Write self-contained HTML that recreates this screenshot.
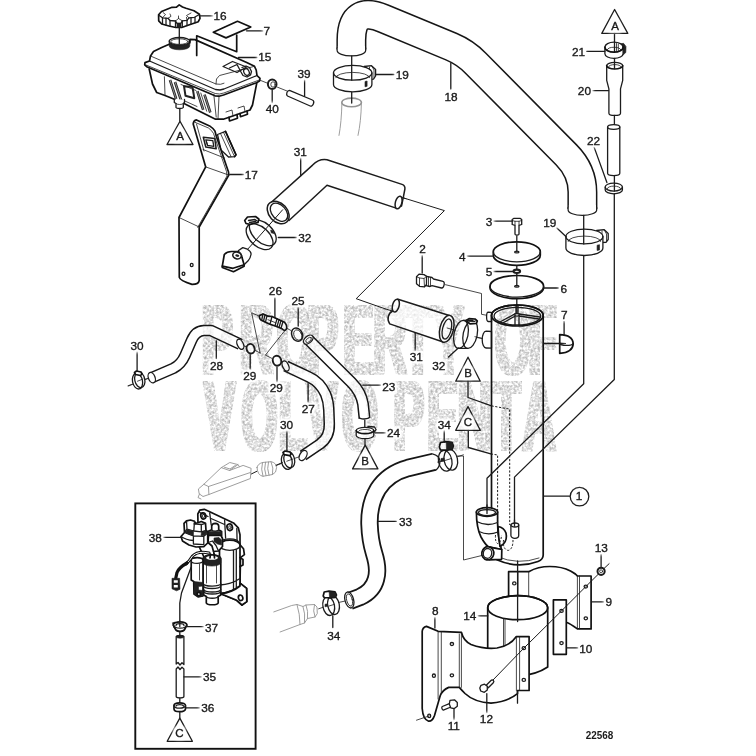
<!DOCTYPE html>
<html>
<head>
<meta charset="utf-8">
<title>22568</title>
<style>
html,body{margin:0;padding:0;background:#fff;}
body{width:756px;height:756px;overflow:hidden;}
svg{display:block;}
svg text{font-family:"Liberation Sans",sans-serif;font-size:11.8px;fill:#1a1a1a;stroke:#1a1a1a;stroke-width:0.35;text-anchor:middle;}
.l{fill:none;stroke:#1c1c1c;stroke-width:1.3;stroke-linecap:round;stroke-linejoin:round;}
.t{fill:none;stroke:#1c1c1c;stroke-width:0.8;stroke-linecap:round;stroke-linejoin:round;}
.w{fill:#fff;stroke:#1c1c1c;stroke-width:1.3;stroke-linecap:round;stroke-linejoin:round;}
.wt{fill:#fff;stroke:#1c1c1c;stroke-width:0.8;stroke-linecap:round;stroke-linejoin:round;}
.b{fill:none;stroke:#111;stroke-width:1.7;stroke-linecap:round;stroke-linejoin:round;}
.wb{fill:#fff;stroke:#111;stroke-width:1.7;stroke-linecap:round;stroke-linejoin:round;}
.k{fill:#222;stroke:#1c1c1c;stroke-width:0.6;stroke-linejoin:round;}
.g{fill:none;stroke:#939393;stroke-width:0.9;stroke-linecap:round;stroke-linejoin:round;}
.wg{fill:#fff;stroke:#939393;stroke-width:0.9;stroke-linecap:round;stroke-linejoin:round;}
.d{fill:none;stroke:#1c1c1c;stroke-width:1;stroke-dasharray:2.2 1.6;}
.ho{fill:none;stroke:#161616;stroke-linecap:butt;stroke-linejoin:round;}
.hi{fill:none;stroke:#fff;stroke-linecap:butt;stroke-linejoin:round;}
.wm{font-family:"Liberation Sans",sans-serif;font-weight:bold;font-size:98px;text-anchor:start;fill:#ccc;stroke:none;}
</style>
</head>
<body>
<svg width="756" height="756" viewBox="0 0 756 756">
<rect width="756" height="756" fill="#fff"/>
<defs><filter id="wmf" x="190" y="296" width="380" height="164" filterUnits="userSpaceOnUse" color-interpolation-filters="sRGB"><feMorphology in="SourceAlpha" operator="dilate" radius="2 0.6" result="a"/><feTurbulence type="fractalNoise" baseFrequency="0.42" numOctaves="2" seed="5" result="n"/><feColorMatrix in="n" type="matrix" values="0.44 0 0 0 0.69  0.44 0 0 0 0.69  0.44 0 0 0 0.69  0 0 0 0 1" result="g"/><feComposite in="g" in2="a" operator="in"/></filter></defs>
<g id="watermark" filter="url(#wmf)">
<text class="wm" transform="scale(0.47 1)" x="429.2 510.1 589.4 653.7 729.9 794.1 858.9 921.5 1005.5 1053.2 1123.9" y="374.3">PROPERTY OF</text>
<text class="wm" transform="scale(0.47 1)" x="434.5 513.9 593.1 652.3 727.7 814.0 836.7 909.0 973.9 1047.4 1111.9" y="449.6">VOLVO PENTA</text>
</g>
<g id="drawing">
<!-- 10_tank.svg -->
<g id="tank">
<!-- cap 16 -->
<path class="wb" d="M179.200 4.900 L176.500 7.200 L172 7.300 L161.500 11.500 L158.600 14.800 L158.700 20.800 L161.700 24 L169 26 L175.800 27.500 L181.700 27.500 L188 25.300 L198.300 21.700 L200 18.300 L199.400 14.200 L194 10.800 L186 8.300 L182.500 7 Z"/>
<path class="l" d="M158.800 15.200 L162.500 17.800 L168 18.300 L170 20.500 L175.500 21 L177 23.300 L181 23.300 L182.300 20.800 L187 20.300 L189 17.800 L194.500 17.300 L199.300 14.500"/>
<path class="t" d="M168 18.300 L171 16.300 L170 14 M175.500 21 L178.500 18.500 L182.300 20.800 M178.500 18.500 L178.500 16 M187 20.300 L186.500 17.300 M163 12.500 L165.500 14.500 L162.500 17.800 M189 17.800 L186.500 15.500 L191 13"/>
<path class="l" d="M162.500 17.800 L162.500 24 M166 18.200 L166 25 M170 20.500 L170 26 M175.500 21 L175.500 27.300 M182.300 20.800 L182.300 27.300 M187 20.300 L187 25.500 M191 17.600 L191 24.200 M195 17.300 L195 22.800"/>
<path class="k" d="M177 23.300 L181 23.300 L181 27.300 L177 27.300 Z"/>
<path class="l" d="M179.300 27.500 L179.300 38"/>
<path class="l" d="M200 15.800 L213 15.800"/>
<!-- neck -->
<path class="k" d="M169.200 41.300 L169.200 46 A10.300 3.800 0 0 0 189.800 46 L189.800 41.300 Z"/>
<ellipse class="w" cx="179.500" cy="41.300" rx="10.300" ry="3.800"/>
<ellipse class="t" cx="179.500" cy="41.600" rx="8.600" ry="2.800"/>
<path class="l" d="M179.300 38 L179.300 44"/>
<!-- tank body -->
<path class="b" d="M169.200 44.200 L161.700 47.500 L153.500 51.500 L150.500 56 L149.500 61 M189.800 43 L190 39.400 L195 39.600 L246.700 62.500 L254.500 66.300 L256.200 70 L257 75.500 L260 78.300 L259.500 81 L256.500 82.700 L223.500 95 L219 96.200 L215 95.800 L146.700 66.700 L144.700 64.800 L145 62.600 L149.500 61"/>
<path class="l" d="M149.500 61 L215.500 89.500 L220 90 L224 89 L257 75.500"/>
<path class="t" d="M146 65 L215.200 93.500 L219.500 94 L223.800 93 L259.300 80"/>
<path class="t" d="M150.500 56 L216 84 L220.500 84.300 L224 83.200 M216 84 L216.500 79 L219.500 75.500 L254.500 66.300"/>
<path class="b" d="M149.200 69 L152.500 84 L156.700 92.500 L165 95.500 L175 99.500 M184 103.500 L212 117.500 L215.500 119.200 L223.300 119.200 L250 110 L252.500 105 L256.700 83.300"/>
<path class="t" d="M219 96.200 L218 119"/>
<!-- dark underside -->
<path class="t" d="M164.400 76.700 L165 94.500"/>
<path fill="none" stroke="#222" stroke-width="2.600" stroke-linecap="butt" d="M170 80 L176.200 99 M175 82 L180.800 99.500"/>
<path fill="none" stroke="#bbb" stroke-width="0.700" d="M170 80 L176.200 99 M175 82 L180.800 99.500"/>
<path fill="none" stroke="#222" stroke-width="2" stroke-linejoin="round" d="M184 86.200 L192.500 87 L194.300 98.200 L185.500 95.800 Z"/>
<path class="t" d="M181 84.500 L196 90.500 M181.500 99.500 L197 106.500"/>
<path fill="none" stroke="#222" stroke-width="2.600" stroke-linecap="butt" d="M197.300 91.200 L203.200 109.800 M204.500 94.700 L210.300 112.500"/>
<path fill="none" stroke="#bbb" stroke-width="0.700" d="M197.300 91.200 L203.200 109.800 M204.500 94.700 L210.300 112.500"/>
<path class="t" d="M200.800 93 L206.700 111.200 M213.800 94.500 L216.200 117.100"/>
<!-- bottom fitting -->
<path class="w" d="M174.300 99.500 L174.300 102.500 L176 103.500 L176 107.500 A3.700 1.200 0 0 0 183.300 107.500 L183.300 103.500 L184.500 102.500 L184.500 99.500"/>
<path class="t" d="M176 103.500 A3.700 1.200 0 0 0 183.300 103.500"/>
<path class="l" d="M179.800 108.700 L179.800 121"/>
<!-- feet right bottom -->
<path class="b" d="M229 117.300 L229.500 121 L237.500 118.200 L237 114.600 M240 113.600 L240.500 116.700 L247.500 114.200 L247 111"/>
<path class="t" d="M226 112 L232 110 L233 116 M238 108 L244 106 L245 111.500"/>
<!-- sensor window -->
<path class="l" d="M223 66.500 L232.500 61.500 L246.500 67 L237 72.500 Z"/>
<path class="l" d="M229.500 68 L237 64.500 L241 72 L243 75.500 L247 77 L250.500 75 L251.500 71.500 L249.500 67.500 L246 66 L242 67.500"/>
<ellipse class="l" cx="246.500" cy="72" rx="2.600" ry="3.500" transform="rotate(-25 246.5 72)"/>
<!-- label 7 -->
<path class="wb" d="M213.300 32.200 L237.500 21.300 L250.800 27 L226 37.900 Z"/>
<path class="l" d="M246.500 30.800 L263 30.800"/>
<path class="b" d="M196.700 55.500 L196.700 35.800 L236.700 51.700 L236.700 35"/>
<path class="l" d="M238.500 57.500 L257 57.500"/>
<!-- triangle A -->
<path class="w" d="M180 121.200 L193 144.500 L167 144.500 Z"/>
<!-- 40 washer, 39 pin -->
<path class="t" d="M259.500 80 L267 83 M277.500 87.200 L287 91"/>
<ellipse cx="272.200" cy="84.200" rx="4.300" ry="4.700" fill="#fff" stroke="#1c1c1c" stroke-width="2"/>
<ellipse class="t" cx="273" cy="84.500" rx="2.200" ry="2.700"/>
<path class="w" d="M289.500 90.300 L312.400 100 A2.200 3.100 20 0 1 310.200 106 L287.500 96 A2.200 3.100 20 0 1 289.500 90.300 Z"/>
<path class="l" d="M304.600 79.500 L304.600 96"/>
<path class="l" d="M272.200 90.500 L272.200 103"/>
</g>
<!-- 12_bracket17.svg -->
<g id="bracket17">
<!-- right tab behind -->
<path class="w" d="M217.500 134.500 L225.500 131.300 L236 154.800 L234.500 156.700 L228.500 157 L221 150 Z"/>
<path class="b" d="M225.500 131.300 L236 154.800 L234.500 156.700"/>
<path class="t" d="M220.500 133.500 L231 156.500 M223.500 132.300 L234 155.500"/>
<!-- main strap -->
<path class="wb" d="M193.200 123.900 Q193.500 120.500 196.500 119.900 L209.600 125.900 Q213.500 128.500 215 131.200 L216.400 136.500 L228.500 172 L228.800 175.100 L199.200 227 L199.200 280.500 Q198.500 284.500 192 284.400 Q180 280.500 179.300 277.400 L179 217.500 L205.700 166.900 Z"/>
<path class="t" d="M205.700 166.900 L228.800 175.100 M179 217.500 L199.200 227 M203 149.500 L224.500 158 M195 122.300 L208.500 128 Q212 130.500 213.500 133.500 L226.500 171.500 L227 176 L197.700 227.300 M196.500 124 L204 151"/>
<path fill="#fff" stroke="#1c1c1c" stroke-width="1.500" stroke-linejoin="round" d="M203.300 137.300 L214.700 138.500 L216.200 148.800 L205.800 147 Z"/>
<path class="l" d="M205.800 139.800 L212.800 140.700 L213.800 146.300 L207.500 145.300 Z"/>
<path class="t" d="M207.500 145.300 L206.500 141.500"/>
<ellipse class="l" cx="183.500" cy="273.800" rx="1.400" ry="1.600"/>
<ellipse class="l" cx="191.700" cy="265" rx="1.400" ry="1.600"/>
<path class="l" d="M229.800 174.500 L243.600 174.500"/>
</g>
<!-- 20_hose18.svg -->
<g id="hose18">
<!-- ghost hose below clamp 19 -->
<path class="g" d="M341.900 103 Q341.500 122 339 135.400 M361.400 103 Q361 122 358 135.400"/>
<ellipse class="wg" cx="351.600" cy="102.400" rx="9.800" ry="4.300" style="stroke-width:1.6"/>

<!-- hose 18 -->
<path class="ho" stroke-width="30" d="M351.400 49.500 L351.400 40 Q351.400 5.100 383.700 18.600 L451.400 46.700 Q465.200 52.500 475.700 63.200 L566.400 154.900 Q582.400 171.100 582.400 192 L582.400 209"/>
<path class="hi" stroke-width="27" d="M351.400 51.600 L351.400 40 Q351.400 5.100 383.700 18.600 L451.400 46.700 Q465.200 52.500 475.700 63.200 L566.400 154.900 Q582.400 171.100 582.400 192 L582.400 211"/>
<path class="w" d="M337.150 48 L337.150 50.500 A14.25 5.400 0 0 0 365.650 50.500 L365.650 48" stroke-width="1.5"/>
<path fill="#fff" stroke="none" d="M337.900 46 L364.900 46 L364.900 51.100 L337.900 51.100 Z"/>
<path class="w" d="M568.150 207.500 L568.150 210 A14.25 5.300 0 0 0 596.650 210 L596.650 207.500" stroke-width="1.5"/>
<path fill="#fff" stroke="none" d="M568.900 205 L595.900 205 L595.900 210.600 L568.900 210.600 Z"/>
<!-- center lines -->
<path class="l" d="M351.700 92.500 L351.700 103"/>
<path class="l" d="M450.800 63 L450.800 89"/>
</g>
<!-- 22_clamp19.svg -->
<g id="clamp19a">
<path class="w" d="M364 66.500 L371.500 65.700 L375.600 69.500 L375.600 76 L373.500 79.200 L368 79.500 Z"/>
<path class="t" d="M366.500 67.500 L366.500 78 M369.500 67 L369.500 78.500 M372 66.300 L374 70 L374 77.500"/>
<path class="w" d="M333.5 72.8 L333.5 84.4 A19.2 7.4 0 0 0 371.9 84.4 L371.9 72.8 A19.2 7.4 0 0 0 333.5 72.8 Z"/>
<path class="t" d="M335.7 77.7 A17.0 5.3 0 0 1 369.7 77.7"/>
<path class="l" d="M351.7 56 L351.7 80.2"/>
<path class="l" d="M333.5 72.8 A19.2 7.4 0 0 0 371.9 72.8"/>
<path class="k" d="M365 81.500 L367.100 81 L367.100 86.300 L365 86.800 Z"/>
<path class="l" d="M375.900 74.500 L393.900 74.500"/>
</g>
<g id="clamp19b">
<path class="w" d="M596.500 230.500 L604 229.600 L608.200 233.500 L608.200 239.500 L606 242.300 L600.500 242.500 Z"/>
<path class="t" d="M599 231.500 L599 241.500 M602 231 L602 242 M604.500 230.300 L606.500 234 L606.500 241"/>
<path class="w" d="M565.9 236.5 L565.9 248.1 A18.5 7.4 0 0 0 602.9 248.1 L602.9 236.5 A18.5 7.4 0 0 0 565.9 236.5 Z"/>
<path class="t" d="M568.1 241.4 A16.3 5.3 0 0 1 600.7 241.4"/>
<path class="l" d="M583.7 215.5 L583.7 243.9"/>
<path class="l" d="M565.9 236.5 A18.5 7.4 0 0 0 602.9 236.5"/>
<path class="k" d="M597.100 245.200 L599.500 244.700 L599.500 250 L597.100 250.500 Z"/>
<path class="l" d="M555.800 227 L565.900 236.500"/>
</g>
<!-- 24_items20.svg -->
<g id="items20">
<path class="w" d="M614.600 9.500 L627.800 33.400 L601.800 33.400 Z"/>
<!-- clamp 21 -->
<path class="k" d="M619.500 44 L623.500 43.300 L626 46.500 L625.800 52.500 L623 55.100 L620 54 Z"/>
<path class="w" d="M604.900 47.200 L604.900 53.800 A9.100 4.600 0 0 0 623.100 53.800 L623.100 47.200 A9.100 5 0 0 0 604.900 47.200 Z"/>
<path class="t" d="M607 50 A7.100 3.300 0 0 1 621 50 M616.500 43.500 L616.500 50.500 M618.300 44 L618.300 50.800"/>
<path class="l" d="M614.500 33.400 L614.500 52.200"/>
<path class="b" d="M604.900 47.200 A9.100 5 0 0 0 623.100 47.200"/>
<path class="l" d="M586.700 51.300 L604.900 51.300"/>
<path class="l" d="M614.500 58.300 L614.500 63.500"/>
<!-- hose 20 -->
<path class="w" d="M606.700 65.700 L606.700 80.400 L608.900 88.900 L608.900 113.200 A5.800 2.200 0 0 0 620.500 113.200 L620.500 88.900 L622.700 80.400 L622.700 65.700 A8 3.300 0 0 0 606.700 65.700 Z"/>
<path class="b" d="M606.700 65.700 A8 3.300 0 0 0 622.700 65.700"/>
<path class="t" d="M608.500 66.800 A6.200 2.200 0 0 1 621 66.800"/>
<path class="l" d="M614.500 63.500 L614.500 68.500"/>
<path class="l" d="M592 90.600 L608.500 90.600"/>
<path class="l" d="M614.400 115.500 L614.400 126"/>
<!-- lower hose -->
<path class="w" d="M607.600 127 L607.600 173.300 A6.100 2.300 0 0 0 619.800 173.300 L619.800 127 A6.100 2.300 0 0 0 607.600 127 Z"/>
<path class="l" d="M607.600 127 A6.100 2.300 0 0 0 619.800 127"/>
<!-- clamp 22 -->
<path class="w" d="M605.200 187.100 L605.200 190.100 A8.600 3.700 0 0 0 622.400 190.100 L622.400 187.100 A8.600 4 0 0 0 605.200 187.100 Z"/>
<path class="t" d="M607.300 188.500 A6.600 2.400 0 0 1 620.500 188.500"/>
<path class="l" d="M614.400 175.600 L614.400 191"/>
<path class="l" d="M605.200 187.100 A8.600 4 0 0 0 622.400 187.100"/>
<path class="l" d="M594.100 147.100 L606.900 182.500"/>
</g>
<!-- 30_cyl.svg -->
<g id="cyl">
<!-- bolt 3 -->
<path class="w" d="M512.200 219.500 L514 218.300 L520 218.300 L521.700 219.500 L521.700 224.500 L519 225.300 L519 234.300 A2 0.800 0 0 1 515 234.300 L515 225.300 L512.200 224.500 Z"/>
<path class="t" d="M512.200 220.500 L515 221.300 L519 221.300 L521.700 220.500 M515 221.300 L515 225 M519 221.300 L519 225"/>
<path class="l" d="M493.100 221.200 L512.200 221.200"/>
<!-- disc 4 -->
<path class="wb" d="M493.300 251.800 L493.300 255.300 A23.500 10 0 0 0 540.300 255.300 L540.300 251.800 A23.500 10 0 0 0 493.300 251.800 Z"/>
<path class="l" d="M493.300 251.800 A23.500 10 0 0 0 540.300 251.800"/>
<ellipse class="l" cx="516.800" cy="252" rx="2.200" ry="0.900"/>
<path class="l" d="M516.800 236 L516.800 251.500"/>
<path class="l" d="M466.700 256.100 L493.100 256.100"/>
<path class="l" d="M516.800 265.600 L516.800 269"/>
<!-- washer 5 -->
<ellipse cx="516.800" cy="271.300" rx="3.300" ry="1.700" fill="#fff" stroke="#1c1c1c" stroke-width="2.100"/>
<path class="l" d="M493.100 271.500 L512.500 271.500"/>
<path class="l" d="M516.800 273.800 L516.800 276.500"/>
<!-- disc 6 -->
<path class="wb" d="M490 286.300 L490 287.800 A26.800 10.800 0 0 0 543.600 287.800 L543.600 286.300 A26.800 10.800 0 0 0 490 286.300 Z"/>
<path class="l" d="M490 286.300 A26.800 10.800 0 0 0 543.600 286.300"/>
<ellipse class="l" cx="516.800" cy="286.300" rx="2.200" ry="0.900"/>
<path class="l" d="M516.800 275.500 L516.800 286"/>
<path class="l" d="M543.900 288 L558.400 288"/>
<path class="l" d="M516.800 298.800 L516.800 313"/>
<!-- plug 2 -->
<path class="w" d="M426.500 276.300 L432 277.500 L433.500 279 L443 281.300 A1.800 3.300 15 0 1 441.500 288 L432 285.700 L430 286.500 L425 285.300 Z"/>
<path class="w" d="M416.500 276.800 L419 274.100 L424 274.600 L426.500 276.300 L426.500 284.500 L424.500 286.800 L419.500 286.300 L416.500 283.800 Z"/>
<path class="t" d="M419.500 278 L419.500 286.300 M424 278.500 L424.500 286.800 M416.500 276.800 L419.500 278 L424 278.500 L426.500 276.300 M428.500 277 L428.500 286 M430.500 277.500 L430.500 286.300"/>
<path class="l" d="M422.200 254 L422.200 273"/>
<path class="t" d="M445.500 284.700 L481.500 293.500 L481.500 314.300 L486.800 315.300"/>
<!-- boss small -->
<path class="w" d="M491.500 312.500 L488.200 312.200 A1.600 4.600 0 0 0 488.200 321.500 L491.500 321.700 Z"/>
<!-- big port left -->
<path class="w" d="M491.500 331.500 L486 331.200 A3.800 8.400 0 0 0 486 348 L491.500 348.100 Z"/>
<path class="t" d="M477.200 337.600 L482.500 338.600"/>
<!-- cylinder body -->
<path class="b" d="M491.500 315.500 L491.500 553 Q492.500 558 497.500 560 Q518 569 538 561.500 Q543.200 559.500 543.200 555 L543.200 315.500 A25.850 10.500 0 0 0 491.500 315.500 Z"/>
<path class="t" d="M497 556.500 Q518 565.500 539 558"/>
<ellipse class="b" cx="517.350" cy="315.500" rx="25.850" ry="10.500"/>
<ellipse class="l" cx="517.350" cy="316.200" rx="23.300" ry="8.800"/>
<path class="l" d="M516 313.500 L516 306.500 M518 313.500 L518 306.500 M499.500 322.300 L515 313.800 M501 324 L515.300 316 M519 314 L539.800 317 M519 316 L539 319 M515 316 L515 325.500 M519 316 L519 325.500"/>
<ellipse class="w" cx="517" cy="314.800" rx="2.300" ry="1.300"/>
<!-- leader 1 -->
<path class="l" d="M543.700 496.200 L569.500 496.200"/>
<circle class="w" cx="579.500" cy="496.600" r="9.300"/>
<!-- clip 7 -->
<path class="l" d="M543.600 343.500 L572.200 343.500"/>
<path class="wb" d="M559.700 334.600 Q572.800 335 573.200 343.800 Q572.800 352.500 559.700 353.400 Z"/>
<path class="l" d="M559.700 343.500 A6.700 2.200 0 0 0 573 343.500"/>
<path class="k" d="M559.700 342.800 L566 343.500 L559.700 345 Z"/>
<path class="l" d="M564.100 321.300 L564.100 335"/>
<!-- triangles B, C -->
<path class="w" d="M468 357.200 L480.300 381.200 L455.700 381.200 Z"/>
<path class="w" d="M468 406.600 L480.300 430.300 L455.700 430.300 Z"/>
<path class="l" d="M468 381.200 L468 397.500 L491.500 405.900"/>
<path class="d" d="M491.500 405.900 L509.700 409.100 L509.700 525"/>
<path class="l" d="M468.300 430.300 L468.300 447.500 L490.800 453.900"/>
<path class="d" d="M490.800 453.900 L497.600 455 L497.600 534"/>
<!-- clamp34 lines -->
<path class="t" d="M457.200 456 L463.500 456 L463.500 560 L482.300 555.400"/>
<!-- elbow -->
<path class="wb" d="M476.400 512 C476.400 522 477.500 530 481 537 C483.500 541.500 485.500 544.500 488 546.500 L501.500 549.500 Q499 541 498 533 Q497.400 524 497.600 512 Z"/>
<path class="wb" d="M498 526.500 Q504 527.500 506 533 Q507.500 539.500 503.500 544 L500 546.500 Q498.500 537 498 526.500 Z"/>
<path class="l" d="M476.800 521.500 Q487 527 497.500 522.500 M479 531.500 Q488 536 498 532"/>
<ellipse class="wb" cx="487" cy="512" rx="10.600" ry="4.300"/>
<ellipse class="l" cx="487" cy="512.600" rx="8.500" ry="3"/>
<path class="l" d="M487 505 L487 513.500"/>
<path class="wb" d="M487.600 546.800 L501.800 549.500 L501.600 559.300 L489 559.900 Z"/>
<ellipse class="wb" cx="487.800" cy="553.300" rx="6" ry="6.600" transform="rotate(10 487.8 553.3)"/>
<ellipse class="l" cx="487.500" cy="553.400" rx="4.200" ry="4.900" transform="rotate(10 487.5 553.4)"/>
<!-- small fitting -->
<path class="w" d="M510.900 525 L510.900 535.500 A3.900 2.800 0 0 0 518.700 535.500 L518.700 525 A3.900 2 0 0 0 510.900 525 Z"/>
<path class="l" d="M510.900 525 A3.900 2 0 0 0 518.700 525"/>
<path class="l" d="M514.500 520 L514.500 526"/>
<path class="d" d="M495.500 535 Q495 542 497.500 543.500 Q501 543.500 501.500 535 M503.500 540 Q502.500 549 508 550.500 Q513 549.500 513 540"/>
</g>
<!-- 40_brackets.svg -->
<g id="brackets">
<!-- bracket 9 rear -->
<path fill="#fff" stroke="none" d="M508.600 571.700 L528.700 571.700 Q538 566.500 549.800 566.500 Q562 566.500 570.500 571 Q576 574 577.400 576 L591.100 576 L591.100 628.900 L577.400 628.900 Q570 623.500 566.800 622.500 L566 600 L528.700 600 L508.600 600 Z"/>
<path class="b" d="M508.600 600 L508.600 571.700 L528.700 571.700 Q538 566.500 549.800 566.500 Q562 566.500 570.500 571 Q576 574 577.400 576 L591.100 576 L591.100 628.900 L577.400 628.900 Q570 623.500 566.800 622.500"/>
<path class="t" d="M528.700 571.700 L528.700 600 M518 571.700 L518 600 M579.500 576 L579.500 628.900 M577.400 576 L577.400 628.900"/>
<ellipse class="l" cx="514.300" cy="583.400" rx="1.700" ry="1.500"/>
<ellipse class="l" cx="585.800" cy="586.600" rx="1.700" ry="1.500"/>
<ellipse class="l" cx="585.800" cy="618.300" rx="1.700" ry="1.500"/>
<!-- plate 10 -->
<path class="wb" d="M553.400 599.900 L566.300 599.900 L566.300 654.300 L553.400 654.300 Z"/>
<ellipse class="l" cx="561.500" cy="610.900" rx="1.700" ry="1.500"/>
<ellipse class="l" cx="561.500" cy="643.100" rx="1.700" ry="1.500"/>
<path class="l" d="M566.800 647.900 L577.800 647.900"/>
<path class="l" d="M591.500 601.800 L603.800 601.800"/>
<!-- nut 13 -->
<path class="l" d="M601.100 552.700 L601.100 566.500"/>
<circle cx="601.100" cy="571.300" r="3.600" fill="#fff" stroke="#1c1c1c" stroke-width="2"/>
<circle class="t" cx="601.100" cy="571.300" r="1.500"/>
<path class="l" style="stroke-width:1" d="M609.100 563.700 L604 568.500"/>
<!-- liner 14 -->
<path class="wb" d="M487.700 607.700 L487.700 667 Q500 676 518 676 Q536 675 547.700 667 L547.700 607.700 A30 12 0 0 0 487.700 607.700 Z"/>
<ellipse class="b" cx="517.700" cy="607.700" rx="30" ry="12"/>
<path class="t" d="M503.500 618.500 L503.500 647 M505 618.800 L505 647"/>
<path class="l" d="M477.900 615.800 L487.800 615.800"/>
<path class="l" d="M517.600 561 L517.600 621.500"/>
<!-- bracket 8 front -->
<path class="wb" d="M422.200 631.300 Q422.500 627.500 426.500 626.400 L438.100 631.300 L461.400 632.300 Q463.500 641 471 644.500 Q484.700 649.500 497 648 Q510 646 516.400 636.600 L529.100 636.600 L529.100 690.500 L517.500 690.500 L517.500 693.700 Q508 701.500 491 703.200 Q474 702 465 693.500 Q461.500 690 459.300 687.400 L448.700 687.400 Q442.500 690 440.200 695.800 L434.500 715.500 Q432.500 721.500 428.600 721.200 Q423 719.500 422.200 708.500 Z"/>
<path class="t" d="M438.100 631.300 L438.100 699 M441.300 631.500 L441.300 693.500 M459.300 634 L459.300 687.400 M461.400 632.300 L461.400 687.400 M519.600 636.600 L519.600 690.500 M516.400 636.600 L516.400 690.500"/>
<ellipse class="l" cx="451.900" cy="644" rx="1.700" ry="1.500"/>
<ellipse class="l" cx="451.900" cy="675.300" rx="1.700" ry="1.500"/>
<ellipse class="l" cx="433.900" cy="675.700" rx="1.500" ry="1.700"/>
<ellipse class="l" cx="429.200" cy="715.900" rx="1.500" ry="1.700"/>
<ellipse class="l" cx="523.800" cy="648.200" rx="1.700" ry="1.500"/>
<ellipse class="l" cx="523.800" cy="679.900" rx="1.700" ry="1.500"/>
<path class="l" d="M517.500 691.600 L517.500 703.200"/>
<path class="l" d="M434.900 615.800 L434.900 628.100"/>
<path class="t" d="M429.200 715.900 L416.500 720.200"/>
<!-- diagonal bolt line -->
<path class="l" style="stroke-width:1" d="M598.500 574 L585.800 586.600 L561.500 610.900 L523.800 648.200 L493 680"/>
<!-- bolt 12 -->
<path class="w" d="M486 685.500 L491 680.500 A1.600 1.600 0 0 1 493.300 682.800 L488.300 687.800 Z"/>
<path class="w" d="M481 685.300 L484.500 684.200 L487.300 686.300 L487.300 690 L484.300 692.300 L480.700 691 L479.800 688 Z"/>
<path class="l" d="M486.800 693.700 L486.800 712.800"/>
<!-- bolt 11 -->
<path class="w" d="M442.300 706.500 L450 703.300 L451 707 L443.300 710.200 A1.200 2 -20 0 1 442.300 706.500 Z"/>
<path class="w" d="M450 700.300 L454.500 699.800 L457.300 702.500 L457.300 706.300 L454.300 708.600 L450.700 707.800 L449.300 704 Z"/>
<path class="l" d="M454 709.600 L454 720.200"/>
</g>
<!-- 50_hoses.svg -->
<g id="hoses">
<!-- hose 31 upper elbow -->
<path class="l" style="stroke-width:1" d="M401.500 197.300 L444.400 210.600 L356.200 298.700 L385 308.800"/>
<path class="w" style="stroke-width:1.5" d="M267.800 205.500 L312.600 165.100 Q319 158.500 327 159.800 L402 184.400 Q405.300 185.600 404.900 189 L403.500 196.300 L401.500 206 L395.400 207.900 L327 185.300 L289 220.500 Z"/>
<ellipse class="w" cx="398.600" cy="202.500" rx="3.200" ry="6.500" transform="rotate(15 398.600 202.500)" style="stroke-width:1.5"/>
<path class="l" style="stroke-width:1" d="M401.500 197.300 L406 198.700"/>
<ellipse class="w" cx="278.200" cy="212.500" rx="12.800" ry="9.200" transform="rotate(48 278.2 212.500)" style="stroke-width:1.5"/>
<ellipse class="l" cx="279" cy="212.300" rx="10.500" ry="7" transform="rotate(48 279 212.3)"/>
<path class="l" d="M300.700 157.200 L300.700 175.700"/>
<!-- fitting below clamp 32 -->
<path class="l" style="stroke-width:1" d="M247.700 249.200 L253.400 242.900"/>
<path class="w" d="M238.500 250.500 L242.800 247.600 L247.400 249.200 Q251.500 251.500 251 254.500 Q250.500 258 248.100 260.800 L244.100 264.800 L240 262 Z"/>
<path class="wb" d="M222.300 266.100 L224.300 254.500 Q227 251.500 231.500 251.500 L238.100 251.500 Q241.500 253.500 242 257.500 L244.100 264.800 L244.100 266.300 L233.500 271.700 L222.300 267.500 Z"/>
<path class="b" d="M222.300 266.100 L233 268.300 L244.100 264.800"/>
<ellipse cx="237" cy="255.500" rx="4.300" ry="3.300" fill="#fff" stroke="#1c1c1c" stroke-width="1.500" transform="rotate(15 237 255.500)"/>
<ellipse cx="237.300" cy="255.600" rx="2" ry="1.200" fill="#222" transform="rotate(15 237.300 255.600)"/>
<!-- hose 31 small -->
<path class="l" style="stroke-width:1" d="M385 308.800 L391.700 310.800"/>
<path class="w" style="stroke-width:1.5" d="M398 299.300 L448.500 315.300 A6.800 13.800 14 0 1 443.200 342 L389.700 323.900 Q387.300 320 388.300 316.500 Q389.500 312.500 392.300 311.300 L393 306 Q394.500 300.500 398 299.300 Z"/>
<ellipse class="w" cx="395.800" cy="305.600" rx="3.300" ry="6.500" transform="rotate(15 395.800 305.600)" style="stroke-width:1.5"/>
<ellipse class="w" cx="446.700" cy="328.800" rx="6.800" ry="13.800" transform="rotate(14 446.700 328.800)" style="stroke-width:1.5"/>
<ellipse class="l" cx="446.900" cy="329" rx="4.300" ry="10.300" transform="rotate(14 446.900 329)"/>
<path class="l" d="M415.200 332.600 L415.200 350.500"/>
<!-- hose 28 -->
<path class="t" d="M128.500 386 L132.700 384.300 M145 379.500 L149 378 M243 345.500 L246.500 347 M255.300 350.500 L260.100 353"/>
<path class="ho" stroke-width="11.6" d="M151.500 377.800 L173.500 368.200 Q181 364.500 185 355.500 L191.500 340.500 Q195.500 330.800 204 330.500 L211 330.500 L240.300 344.300"/>
<path class="hi" stroke-width="8.6" d="M151 378 L173.500 368.200 Q181 364.500 185 355.500 L191.500 340.500 Q195.500 330.800 204 330.500 L211 330.500 L240.800 344.500"/>
<ellipse class="w" cx="151.600" cy="377.700" rx="3.3" ry="5.4" transform="rotate(-22 151.600 377.300)"/>
<ellipse class="w" cx="240.300" cy="344.300" rx="3" ry="5.4" transform="rotate(-25 240.300 344.300)"/>
<path class="l" d="M216.300 341 L216.300 358.500"/>
<!-- washers 29 -->
<ellipse cx="250.600" cy="348.700" rx="4" ry="4.800" fill="#fff" stroke="#1c1c1c" stroke-width="1.900" transform="rotate(-15 250.600 348.700)"/>
<path class="l" d="M250.200 354.700 L250.200 369"/>
<ellipse cx="277" cy="360.700" rx="4.200" ry="5" fill="#fff" stroke="#1c1c1c" stroke-width="1.900" transform="rotate(-15 277 360.700)"/>
<path class="l" d="M277 366.800 L277 382.600"/>
<!-- bracket lines near 26 -->
<path class="t" d="M260.100 353 L251.600 312.800 L260.100 316.500 M285.500 329.700 L265.400 355.100 L271.700 358.300 M285.500 327.600 L291 330.500"/>
<!-- fitting 26 -->
<g transform="translate(0 1.2)">
<path class="wb" d="M260.500 314 L263 312.800 L268 315 L272 315.300 L279 318.500 L284.500 321 A1.800 3.300 -25 0 1 282 327.500 L276 325 L270 323 L265.500 321 L261 318.800 A1.500 2.800 -25 0 1 260.500 314 Z"/>
<path class="l" d="M263 312.800 L261.700 318.800 M265 313.800 L263.500 319.800 M267 314.600 L265.500 320.600 M272 315.300 L270 323 M277 317.700 L275 324.600 M279 318.500 L277 325.400 M281 319.400 L279 326.200 M283 320.300 L281 327"/>
<path class="t" d="M268 318.500 L275.500 321.500"/>
</g>
<path class="l" d="M274.900 298 L274.900 317.500"/>
<!-- washer 25 -->
<ellipse cx="297.100" cy="334.600" rx="5.300" ry="6.900" fill="#fff" stroke="#1c1c1c" stroke-width="1.500" transform="rotate(-25 297.100 334.600)"/>
<ellipse class="t" cx="297.800" cy="335" rx="3.800" ry="5.400" transform="rotate(-25 297.800 335)"/>
<path class="l" d="M298.200 307.500 L298.200 326"/>
<!-- hose 23 -->
<path class="ho" stroke-width="12" d="M308.500 339.700 L351.500 382.500 Q361 392 363 404 L364.500 418.500"/>
<path class="hi" stroke-width="9" d="M308 339.200 L351.500 382.500 Q361 392 363 404 L364.600 419"/>
<ellipse class="w" cx="308.300" cy="339.600" rx="5.6" ry="3.4" transform="rotate(-42 308.300 339.600)"/>
<ellipse class="t" cx="308.600" cy="339.900" rx="3.400" ry="1.800" transform="rotate(-42 308.600 339.900)"/>
<path class="w" d="M359.500 417.500 A5 1.800 -5 0 0 369.500 416.800"/>
<path class="l" d="M362.800 385.200 L380.700 385.200"/>
<path class="l" d="M364.800 420 L364.800 428"/>
<!-- clamp 24 -->
<path class="w" d="M368 426.500 L374.500 427 L376 429.500 L374.500 432 L369 432 Z"/>
<path class="w" d="M356.200 430.500 L356.200 435.500 A8.800 3.200 0 0 0 373.800 435.500 L373.800 430.500 A8.800 3.200 0 0 0 356.200 430.500 Z"/>
<path class="b" d="M356.200 430.500 A8.800 3.200 0 0 0 373.800 430.500"/>
<path class="t" d="M358.500 431.300 A6.600 2.200 0 0 1 371.500 431.300"/>
<path class="l" d="M375.400 432.800 L386 432.800"/>
<path class="l" d="M365 439.500 L365 445"/>
<path class="w" d="M365.200 445.100 L377.900 468.900 L352.600 468.900 Z"/>
<!-- hose 27 -->
<path class="ho" stroke-width="11.6" d="M285.800 366 L309 377 Q320 382 325.500 394 Q328.500 401 328.800 410 L329.300 424 Q329.800 437 320 444 L303 455.500"/>
<path class="hi" stroke-width="8.6" d="M285.300 365.800 L309 377 Q320 382 325.500 394 Q328.500 401 328.800 410 L329.300 424 Q329.800 437 320 444 L302.600 455.800"/>
<ellipse class="w" cx="285.600" cy="366" rx="3" ry="5.4" transform="rotate(-25 285.600 366)"/>
<ellipse class="w" cx="303.100" cy="455.500" rx="3.4" ry="5.5" transform="rotate(30 303.100 455.500)"/>
<path class="l" d="M308.100 383.700 L308.100 402"/>
<!-- ghost parts near 30 -->
<path class="l" style="stroke-width:1" d="M251.100 474.100 L257 471.200 M275.900 465.400 L282.400 462.500"/>
<path class="wg" d="M257 467.500 Q257.500 464 262.500 462.500 L271 461.700 Q276 462.500 276.600 467.500 Q276.500 473 272.500 474.500 L263 476.300 Q257.500 475.500 257 467.500 Z"/>
<path class="g" d="M262.500 462.500 Q260.500 469 263 476.300 M265.500 462.200 Q263.500 469 266 475.700 M268.500 462 Q266.500 468.500 269 475.200 M271 461.700 Q274 468 272.500 474.500"/>
<path class="wg" d="M198.700 488.700 L203.800 484.300 L221.300 467.600 L229.800 462.500 L238 464.600 L239.500 466.800 L243.100 465.400 L251.100 468.300 L250.400 478.500 L208.900 494.500 L203 496.500 L199.500 494 Z"/>
<path class="g" d="M221.300 467.600 L229.500 470.500 L238 464.600 M224.500 467.300 L230 469 L235.500 465.300 M203.800 484.300 L208.500 486.500 L250.400 472.500 M208.500 486.500 L208.900 494.500 M229.500 470.500 L239.500 466.800 M199.500 494 L198 497.500 L201 499"/>
<!-- hose 33 -->
<path class="ho" stroke-width="18.3" d="M434 461.800 L408 468 Q388 473.500 378 489 Q369 504 369.500 524 Q370 540 374 553 Q379 569 376 579 Q373 591 360 597 L349.500 601"/>
<path class="hi" stroke-width="14.7" d="M434.500 461.700 L408 468 Q388 473.500 378 489 Q369 504 369.500 524 Q370 540 374 553 Q379 569 376 579 Q373 591 360 597 L349 601.200"/>
<path class="w" d="M432.400 453.800 Q439.500 455.500 440 461 Q439.800 467 436 470"/>
<ellipse class="w" cx="349.300" cy="600" rx="4.300" ry="8.200" transform="rotate(-15 349.300 600)"/>
<ellipse class="t" cx="349.500" cy="600" rx="2.800" ry="6.300" transform="rotate(-15 349.500 600)"/>
<path class="l" d="M378.400 521.300 L396.400 521.300"/>
<!-- ghost part bottom -->
<path class="wg" d="M273.800 611.900 L291.700 605.500 L297 604.500 L303 606.500 L306 605 L314.500 604.500 L317 607 L317.300 613.500 L315 617 L307.500 618.500 L304.500 623 L300 624.500 L280.100 632"/>
<path class="g" d="M297 604.500 Q300 614 300 624.500 M303 606.500 Q305.500 613 304.500 623 M306 605 Q308.500 611 307.500 618.500 M314.500 604.500 Q312.500 611 315 617"/>
</g>
<!-- 52_clamps.svg -->
<g id="clamp32a">
<ellipse class="w" cx="262.8" cy="232.8" rx="16" ry="9.6" transform="rotate(43 262.8 232.8)"/>
<ellipse class="w" cx="259.6" cy="236.7" rx="16" ry="9.6" transform="rotate(43 259.6 236.7)" style="fill:none"/>
<path class="wb" d="M244.700 220.500 L247.500 217 L255.500 216.500 L258.800 219 L258 222.500 L250 224.300 L246 223.500 Z"/>
<path class="l" d="M248.500 220.500 L255 219.500 L257 221 M249.500 222.500 L255.500 221.500"/>
<path class="k" d="M270.700 230 L273.500 231 L273.900 233.600 L271.200 232.800 Z"/>
<path class="l" style="stroke-width:1" d="M282.600 209.800 L252.500 243.900"/>
<path class="l" d="M278.300 237.500 L296.500 237.500"/>
</g>
<g id="clamp32b">
<ellipse class="w" cx="470.2" cy="334.4" rx="7" ry="14.3" transform="rotate(12 470.2 334.4)"/>
<ellipse class="w" cx="461" cy="334.4" rx="7" ry="14.3" transform="rotate(12 461 334.4)" style="fill:none"/>
<path class="wb" d="M466 320.500 L469 318.700 L475 319 L477.300 321 L476.500 323.300 L470 323.800 Z"/>
<path class="l" d="M469 321 L475 321.300"/>
<path class="l" d="M463.600 320.500 L472.800 320.500 M458.300 348.300 L467.500 348.300"/>
<path class="t" d="M447.100 328 L455 330.300 M474.900 336.700 L482.100 338.300"/>
<path class="l" d="M458.300 347.900 L448.500 357"/>
</g>
<g id="clamp30a">
<ellipse class="w" cx="139.8" cy="379.8" rx="5" ry="7.9" transform="rotate(-12 139.8 379.8)"/>
<ellipse class="w" cx="137.5" cy="381.2" rx="5" ry="7.9" transform="rotate(-12 137.5 381.2)" style="fill:none"/>
<path class="wb" d="M134.500 372.500 L136.500 371 L141 372 L142 374 L140.500 375.500 L135.500 374.500 Z"/>
<path class="t" d="M127.900 385.800 L132.200 384.200 M137.500 381.200 L143 379 M144.800 379.500 L148.100 378.500"/>
<path class="l" d="M137.100 351.500 L137.100 371.200"/>
</g>
<g id="clamp30b">
<ellipse class="w" cx="289.3" cy="459.8" rx="5.3" ry="8.3" transform="rotate(-12 289.3 459.8)"/>
<ellipse class="w" cx="286.8" cy="461.2" rx="5.3" ry="8.3" transform="rotate(-12 286.8 461.2)" style="fill:none"/>
<path class="wb" d="M283 452.500 L285 451 L290 452 L291.200 454 L289.700 455.700 L284.200 454.700 Z"/>
<path class="t" d="M276 465.500 L281.500 463.500 M286.800 461.200 L293 459 M294.800 458.300 L299.500 456.700"/>
<path class="l" d="M286.900 430 L286.900 451.500"/>
</g>
<g id="clamp34a">
<ellipse class="w" cx="450.8" cy="459.8" rx="6.7" ry="10.5" transform="rotate(-11 450.8 459.8)"/>
<ellipse class="w" cx="445.2" cy="460.8" rx="6.7" ry="10.5" transform="rotate(-11 445.2 460.8)" style="fill:none"/>
<path class="wb" d="M439.300 447 L440.500 442.500 L446 441.600 L452 442.300 L453.400 446 L452 449.500 L446 450.200 L440.500 450 Z"/>
<path class="k" d="M446.200 442 L452 442.500 L453.400 446 L452 449.200 L446.500 449.500 Z"/>
<path class="k" d="M441 458.500 L444 458 L444 461 L441 461.500 Z"/>
<path class="t" d="M437.600 462.100 L445 460.500 L451 458.600 M457.400 456.800 L463.400 454.800"/>
<path class="l" d="M444.200 430 L444.200 442.300"/>
</g>
<g id="clamp34b">
<ellipse class="w" cx="333.5" cy="605.1" rx="5.8" ry="9.5" transform="rotate(-11 333.5 605.1)"/>
<ellipse class="w" cx="328.7" cy="606.1" rx="5.8" ry="9.5" transform="rotate(-11 328.7 606.1)" style="fill:none"/>
<path class="wb" d="M323.200 596 L324.200 592 L329 591.200 L335 591.800 L336.500 595 L335.300 597.500 L329.500 597.800 L324.200 597.500 Z"/>
<path class="k" d="M329.200 591.600 L335 592 L336.500 595 L335.300 597.200 L329.500 597.500 Z"/>
<path class="k" d="M325 604.300 L327.500 603.800 L327.500 606.300 L325 606.800 Z"/>
<path class="t" d="M318.600 608.800 L323.300 607.200 M328.700 606.100 L334 604.500 M338.400 602.500 L344.400 601.200"/>
<path class="l" d="M332.800 615.700 L332.800 627.600"/>
</g>
<!-- 60_pump.svg -->
<g id="pumpbox">
<rect x="135.300" y="503.400" width="120.300" height="245.400" fill="none" stroke="#111" stroke-width="1.900"/>
<!-- back plate -->
<path class="wb" d="M197.800 514 L199.800 510.200 L204.300 509.300 L209.700 511.700 L233.500 522.900 L238.300 527.800 L240 534.800 L240 544.700 L243.500 548.700 L244.400 554.600 L240.500 557.600 L240 583.100 L246.600 588.400 L246.800 601.600 L242 605 L236.700 600.300 L220.800 593.700 L198.400 545 Z"/>
<path class="l" d="M209.700 512.900 L211.200 525 M224.600 519.900 L225.600 538 M211 518.500 L224.600 524.500 M236.800 528.500 L237.200 546 M199.800 512.500 L208 516.500"/>
<ellipse class="b" cx="203.300" cy="515.900" rx="2.500" ry="3.100" transform="rotate(-15 203.3 515.9)"/>
<ellipse class="t" cx="203.500" cy="516" rx="1.100" ry="1.500"/>
<ellipse class="b" cx="229.700" cy="527.200" rx="2.700" ry="3.300" transform="rotate(-15 229.7 527.2)"/>
<ellipse class="t" cx="229.900" cy="527.300" rx="1.200" ry="1.600"/>
<!-- motor -->
<path class="wb" d="M219.500 545 A10.250 4.800 0 0 1 240 545 L240 586 Q231 593 219.500 593.500 Z"/>
<path class="l" d="M219.500 545.500 A10.250 4.800 0 0 0 240 545.500 M233.500 551 L233.500 590 M236.300 549.500 L236.300 588.500 M219.500 585 Q231 584.500 240 578.500 M221 541.500 A9 3.600 0 0 1 238.500 542"/>
<path class="b" d="M240 557.600 L243 559.500 L243 565 L240 566.500"/>
<!-- bottom tab -->
<path class="wb" d="M220.800 593.700 L236.700 600.300 L242 605 L246.800 601.600 L246.600 588.400 L240 583.100 L240 586 Q232 592.500 220.800 593.700 Z"/>
<ellipse class="b" cx="240.600" cy="597.800" rx="2.200" ry="2.800" transform="rotate(-15 240.6 597.8)"/>
<!-- center top boss -->
<path class="wb" d="M211.700 526 Q212 523.500 215.200 523.300 Q218.500 523.500 218.700 526 L218.700 529.800 L221.600 531.500 L221.600 535.500 L207.700 535.500 L207.700 531.500 L211.700 529.800 Z"/>
<path class="k" d="M207.700 531.500 L221.600 531.500 L221.600 535.500 L207.700 535.500 Z"/>
<path class="l" d="M211.700 529.800 A3.500 1.300 0 0 0 218.700 529.800"/>
<path class="wb" d="M208.500 535.500 L221 535.500 L222.500 538.500 L222.500 546.500 L218.500 551 L213.500 551.500 L212 546 L208 542.500 Z"/>
<path class="k" d="M214 538 L219 537.500 L221.500 540 L221.500 545 L217.500 544 L214 541.500 Z"/>
<path class="l" d="M208 542.500 L212.500 541 L216 545.500 L218.500 551 M213.500 551.500 L214 555"/>
<!-- left blocks -->
<path class="wb" d="M184 523.300 L186.500 520.800 L190.500 520 L194.500 521.300 L195.500 523.500 L201.300 521.500 L205.500 523.300 L206 530.500 L207.700 532 L207.700 543 L203.800 546.700 L196 547 L189 545 L182.500 541 L181 536.500 L184.500 532.500 Z"/>
<path class="l" d="M186.500 520.800 L187 529 L193.800 531 L194.500 521.300 M193.800 523.800 L201.300 524.500 L201.300 531.800 L193.800 531 M201.300 524.500 L205.500 523.300 M201.300 531.800 L206 530.500 M187 529 L184.500 532.500 M193.400 535.800 L203.800 536.300 L203.800 544.700 L193.400 544 Z M203.800 536.300 L207.700 533 M181 536.500 Q186 540 193.400 540.500 M184.500 532.500 Q188.500 534.500 193.400 535.800"/>
<path class="k" d="M187.500 529.500 L193.500 531.300 L193.400 535.500 L188.500 534 L185.300 532.500 Z M201.500 532.300 L205.800 531 L207.300 532.500 L203.800 535.800 L201 535.500 Z"/>
<!-- filter cylinder -->
<path class="wb" d="M203 558.500 A8.900 3.600 0 0 1 220.800 558.500 L220.800 595 L218.200 596.500 L218.200 603 A6 2 0 0 1 206.300 603 L206.300 596.500 L203.700 595 L203 581 Z"/>
<path class="k" d="M203 558.500 A8.900 3.600 0 0 1 220.800 558.500 L220.800 562.500 A8.900 3.600 0 0 1 203 562.500 Z"/>
<path fill="#fff" stroke="none" d="M206 557.800 A6 2 0 0 1 218 557.800 A6 2 0 0 1 206 557.800 Z"/>
<path class="l" d="M203.400 583.700 A8.700 2.500 0 0 0 220.800 583.700 M203.400 586 A8.700 2.500 0 0 0 220.800 586 M203.700 589.500 A8.550 2.500 0 0 0 220.800 589.500 M206.300 596.500 A6 2 0 0 0 218.200 596.500 M203.700 591.500 A8.550 2.500 0 0 0 220.800 591.500"/>
<path class="t" d="M216.500 565 L216.500 583 M206.500 565 L206.500 583"/>
<path class="b" d="M210 557.800 L210.500 554 M214.500 557.800 L214 553"/>
<!-- left cylinder -->
<path class="wb" d="M191.200 560 A5.900 2.400 0 0 1 203 560 L203 596 L198 596.800 L194 594 L193.700 581.500 L191.200 580 Z"/>
<path class="k" d="M193.800 581.500 L203 582.500 L203 586 L198.500 586.500 L198.500 590 L203 590.500 L203 596 L198 596.800 L194.300 594 Z"/>
<path class="l" d="M191.200 561 A5.900 2.400 0 0 0 203 561"/>
<path class="t" d="M199.500 564 L199.500 580"/>
<circle class="wb" cx="198.800" cy="594" r="1.700"/>
<!-- cable -->
<path fill="none" stroke="#111" stroke-width="3" stroke-linecap="round" d="M209 553 Q198 550.500 192.500 556 Q189.500 561 186 564"/>
<path fill="none" stroke="#fff" stroke-width="1" stroke-linecap="round" d="M209 553 Q198 550.500 192.500 556 Q189.500 561 186 564"/>
<path fill="none" stroke="#111" stroke-width="3.200" stroke-linecap="round" d="M187 563 Q179 567.500 177 572.500 L175.800 578"/>
<path class="k" d="M172 578.300 L179.600 578.300 L180 589.300 L176.500 590.800 L172 588.800 Z"/>
<path fill="#fff" stroke="none" d="M173.800 580.300 L177.800 580.300 L177.800 582.800 L173.800 582.800 Z M173.800 585 L177.800 585 L177.800 587.500 L173.800 587.500 Z"/>
<!-- leader / line to 37 -->
<path class="l" d="M163.300 537.400 L181.500 537.400"/>
<path class="l" d="M191.100 567.200 L181.500 593 L179.800 603 L179.800 621"/>
<!-- clamp 37 -->
<path class="k" d="M172.400 622.800 L175.500 622 L176 628.500 L174 628 Z"/>
<path class="wb" d="M173.300 625 L175.600 629.500 A4.700 2.600 0 0 0 184.600 629.500 L186.900 625 A6.800 3.200 0 0 0 173.300 625 Z"/>
<path class="l" d="M173.300 625 A6.800 3.200 0 0 0 186.900 625 M176 625.500 A4 1.800 0 0 1 184 625.500"/>
<path class="l" d="M179.800 621 L179.800 626.500"/>
<path class="l" d="M187.100 626.700 L204.300 626.700"/>
<path class="l" d="M179.800 632.500 L179.800 635"/>
<!-- hose 35 -->
<path class="w" d="M176.200 636.800 L176.200 664 L178 662.500 L180 665 L182 662.800 L183.900 664.500 L183.900 636.800 A3.850 1.400 0 0 0 176.200 636.800 Z"/>
<path class="k" d="M176.200 636.800 A3.850 1.400 0 0 1 183.900 636.800 A3.850 1.400 0 0 1 176.200 636.800 Z"/>
<path class="w" d="M176.200 669 L178 667 L180 669.500 L182 667.300 L183.900 669 L183.900 696.500 A3.850 1.400 0 0 1 176.200 696.500 Z"/>
<path class="l" d="M183.900 676.800 L201.700 676.800"/>
<path class="l" d="M179.800 698.500 L179.800 703"/>
<!-- clamp 36 -->
<path class="wb" d="M174 705.500 L174 709 A5.750 2.700 0 0 0 185.500 709 L185.500 705.500 A5.750 2.700 0 0 0 174 705.500 Z"/>
<path class="l" d="M174 705.500 A5.750 2.700 0 0 0 185.500 705.500 M176 706 A3.800 1.600 0 0 1 183.500 706"/>
<path class="l" d="M185.500 707.800 L200.400 707.800"/>
<path class="l" d="M179.800 712 L179.800 718"/>
<path class="w" d="M179.800 718.100 L192.400 741.300 L167.200 741.300 Z"/>
</g>
<!-- 80_lines.svg -->
<g id="lines">
<path class="l" d="M583.700 255.600 L583.700 383.700 L487 478.200 L487 510"/>
<path class="l" d="M614.300 193.700 L614.300 379.500 L514.500 477.100 L514.500 523"/>
</g>
</g>
<use href="#watermark" style="mix-blend-mode:multiply" opacity="0.4"/>
<defs><filter id="halo" x="0" y="0" width="756" height="756" filterUnits="userSpaceOnUse" color-interpolation-filters="sRGB"><feMorphology in="SourceAlpha" operator="dilate" radius="1.8" result="d"/><feGaussianBlur in="d" stdDeviation="1.4" result="b"/><feComponentTransfer in="b" result="a"><feFuncA type="linear" slope="1.5"/></feComponentTransfer><feFlood flood-color="#fff" result="f"/><feComposite in="f" in2="a" operator="in" result="h"/><feMerge><feMergeNode in="h"/><feMergeNode in="SourceGraphic"/></feMerge></filter></defs>
<g id="callouts" filter="url(#halo)">
<g id="labels" opacity="0.999">
<text x="220.0" y="19.9">16</text>
<text x="266.8" y="34.8">7</text>
<text x="264.7" y="61.3">15</text>
<text x="304.1" y="77.5">39</text>
<text x="272.3" y="112.8">40</text>
<text x="251.3" y="178.6">17</text>
<text x="300.3" y="155.6">31</text>
<text x="304.8" y="242.1">32</text>
<text x="402.2" y="79.3">19</text>
<text x="451.1" y="100.7">18</text>
<text x="578.6" y="56.0">21</text>
<text x="584.4" y="95.4">20</text>
<text x="593.5" y="145.2">22</text>
<text x="549.7" y="226.5">19</text>
<text x="489.1" y="225.7">3</text>
<text x="422.5" y="252.8">2</text>
<text x="462.3" y="261.1">4</text>
<text x="489.1" y="276.1">5</text>
<text x="563.7" y="292.6">6</text>
<text x="564.2" y="319.2">7</text>
<text x="275.4" y="295.4">26</text>
<text x="298.1" y="305.2">25</text>
<text x="137.0" y="350.1">30</text>
<text x="216.5" y="369.7">28</text>
<text x="249.8" y="379.7">29</text>
<text x="276.3" y="392.3">29</text>
<text x="416.2" y="361.1">31</text>
<text x="438.8" y="370.1">32</text>
<text x="388.7" y="391.3">23</text>
<text x="308.3" y="412.7">27</text>
<text x="286.6" y="428.7">30</text>
<text x="393.5" y="437.0">24</text>
<text x="444.2" y="428.8">34</text>
<text x="579.1" y="500.3">1</text>
<text x="405.5" y="525.6">33</text>
<text x="155.2" y="542.1">38</text>
<text x="601.3" y="551.9">13</text>
<text x="608.9" y="605.9">9</text>
<text x="435.2" y="614.9">8</text>
<text x="469.8" y="620.3">14</text>
<text x="211.5" y="631.5">37</text>
<text x="333.7" y="639.6">34</text>
<text x="585.7" y="652.6">10</text>
<text x="209.6" y="681.1">35</text>
<text x="207.8" y="712.1">36</text>
<text x="486.4" y="722.5">12</text>
<text x="453.8" y="730.3">11</text>
<text x="180.1" y="140.2" style="font-size:11.5px">A</text>
<text x="615.2" y="29.6" style="font-size:11.5px">A</text>
<text x="468.0" y="377.3" style="font-size:11.5px">B</text>
<text x="468.0" y="426.4" style="font-size:11.5px">C</text>
<text x="365.2" y="465.2" style="font-size:11.5px">B</text>
<text x="179.5" y="737.2" style="font-size:11.5px">C</text>
<text x="599.5" y="738.8" textLength="27.6" lengthAdjust="spacingAndGlyphs" style="font-weight:bold;font-size:10.5px;stroke:none">22568</text>
</g>
</g>
</svg>
</body>
</html>
